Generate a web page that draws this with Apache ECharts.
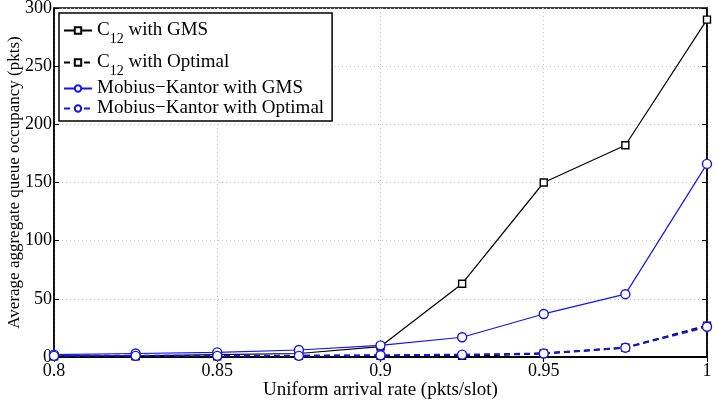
<!DOCTYPE html>
<html>
<head>
<meta charset="utf-8">
<script src="https://cdn.jsdelivr.net/npm/echarts@6/dist/echarts.min.js"></script>
<style>
  html, body { margin: 0; padding: 0; background: #fff; }
  #chart { width: 717px; height: 404px; }
</style>
</head>
<body>
<div id="chart"></div>
<script>
var xRates = [0.8, 0.825, 0.85, 0.875, 0.9, 0.925, 0.95, 0.975, 1.0];
var c12Gms = [1, 1, 2, 3, 9, 63, 150, 182, 290];
var c12Opt = [0.5, 0.5, 0.5, 1, 1, 1, 3, 8, 27];
var mkGms = [2, 3, 4, 6, 10, 17, 37, 54, 166];
var mkOpt = [1, 1, 1, 1, 1.5, 2, 3, 8, 26];

var chart = echarts.init(document.querySelector('#chart'), null);
var font = 'Liberation Serif, Times New Roman, serif';
var blue = '#1414f0';

function pairs(ys) {
    return xRates.map(function (x, i) { return [x, ys[i]]; });
}

function mkSeries(name, ys, color, symbol, size, dashed) {
    return {
        name: name,
        type: 'line',
        data: pairs(ys),
        symbol: symbol,
        symbolSize: size,
        showAllSymbol: true,
        itemStyle: { color: '#fff', borderColor: color, borderWidth: 1.4 },
        lineStyle: { color: color, width: dashed ? 2 : 1.2, type: dashed ? [6, 4] : 'solid' },
        emphasis: { disabled: true },
        animation: false
    };
}

var option = {
    backgroundColor: '#fff',
    textStyle: { fontFamily: font },
    grid: {
        left: 54, right: 10, top: 8, bottom: 47,
        containLabel: false, outerBoundsMode: 'none',
        show: true, borderColor: '#000', borderWidth: 1.5
    },
    legend: {
        orient: 'vertical',
        left: 59,
        top: 13,
        padding: [2, 8, 3, 4],
        itemGap: 1,
        itemWidth: 28,
        itemHeight: 8,
        backgroundColor: '#fff',
        borderColor: '#000',
        borderWidth: 1.5,
        textStyle: {
            fontFamily: font,
            fontSize: 19,
            color: '#000',
            rich: {
                a: { fontFamily: font, fontSize: 19, lineHeight: 18, color: '#000' },
                sub: { fontFamily: font, fontSize: 14, lineHeight: 13, color: '#000', padding: [17, 0, 0, 0] }
            }
        },
        formatter: function (name) {
            if (name.indexOf('C12') === 0) {
                return '{a|C}{sub|12}{a|' + name.slice(3) + '}';
            }
            return '{a|' + name + '}';
        },
        data: ['C12 with GMS', 'C12 with Optimal', 'Mobius\u2212Kantor with GMS', 'Mobius\u2212Kantor with Optimal']
    },
    xAxis: [{
        type: 'value',
        min: 0.8,
        max: 1,
        interval: 0.05,
        name: 'Uniform arrival rate (pkts/slot)',
        nameLocation: 'middle',
        nameGap: 24,
        nameMoveOverlap: false,
        nameTextStyle: { fontFamily: font, fontSize: 19, color: '#000' },
        axisLine: { lineStyle: { color: '#000', width: 1.5 } },
        axisTick: { inside: true, length: 5, lineStyle: { color: '#000' } },
        axisLabel: {
            fontFamily: font, fontSize: 18, color: '#000', margin: 5,
            formatter: function (v) { return String(+v.toFixed(2)); }
        },
        splitLine: { show: true, lineStyle: { color: '#c4c4c4', type: [1, 3] } }
    }, {
        type: 'value',
        position: 'top',
        min: 0.8,
        max: 1,
        interval: 0.05,
        axisLine: { lineStyle: { color: '#000', width: 1.5 } },
        axisTick: { inside: true, length: 5, lineStyle: { color: '#000' } },
        axisLabel: { show: false },
        splitLine: { show: false }
    }],
    yAxis: [{
        type: 'value',
        min: 0,
        max: 300,
        interval: 50,
        name: 'Average aggregate queue occupancy (pkts)',
        nameLocation: 'middle',
        nameGap: 31,
        nameMoveOverlap: false,
        nameTextStyle: { fontFamily: font, fontSize: 17, color: '#000' },
        axisLine: { show: true, lineStyle: { color: '#000', width: 1.5 } },
        axisTick: { show: true, inside: true, length: 5, lineStyle: { color: '#000' } },
        axisLabel: { fontFamily: font, fontSize: 18, color: '#000', margin: 2 },
        splitLine: { show: true, lineStyle: { color: '#c4c4c4', type: [1, 3] } }
    }, {
        type: 'value',
        position: 'right',
        min: 0,
        max: 300,
        interval: 50,
        axisLine: { show: true, lineStyle: { color: '#000', width: 1.5 } },
        axisTick: { show: true, inside: true, length: 5, lineStyle: { color: '#000' } },
        axisLabel: { show: false },
        splitLine: { show: false }
    }],
    series: [
        mkSeries('C12 with GMS', c12Gms, '#000', 'rect', 7, false),
        mkSeries('C12 with Optimal', c12Opt, '#000', 'rect', 7, true),
        mkSeries('Mobius\u2212Kantor with GMS', mkGms, blue, 'circle', 9, false),
        mkSeries('Mobius\u2212Kantor with Optimal', mkOpt, blue, 'circle', 9, true)
    ]
};

chart.setOption(option);

window.addEventListener('resize', function () {
    chart.resize();
});
</script>
</body>
</html>
